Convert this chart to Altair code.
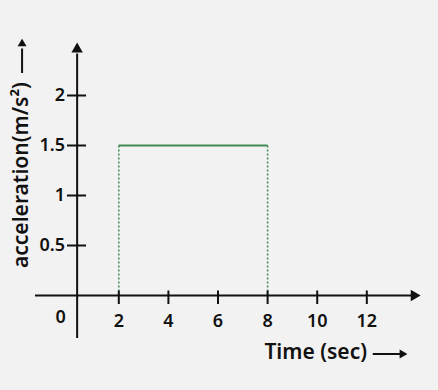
import altair as alt
import pandas as pd

# ---- data ----
x_ticks = [2, 4, 6, 8, 10, 12]
y_ticks = [0.5, 1, 1.5, 2]
y_tick_labels = ["0.5", "1", "1.5", "2"]
accel_start = 2
accel_end = 8
accel_value = 1.5

# ---- layout in data units ----
X_DOM = [-2.79, 14.87]
Y_DOM = [-0.945, 2.955]
YAXIS_X = 0.32
FONT = "Noto Sans"
GREEN = "#3d8b4f"
INK = "#111111"

xs = alt.Scale(domain=X_DOM, nice=False, zero=False)
ys = alt.Scale(domain=Y_DOM, nice=False, zero=False)
X = lambda f: alt.X(f, type="quantitative", scale=xs, axis=None)
Y = lambda f: alt.Y(f, type="quantitative", scale=ys, axis=None)

# axis lines
axes_df = pd.DataFrame([
    {"x": -1.38, "x2": 13.9, "y": 0.0, "y2": 0.0},
    {"x": YAXIS_X, "x2": YAXIS_X, "y": -0.425, "y2": 2.42},
])
axes = alt.Chart(axes_df).mark_rule(color=INK, strokeWidth=2).encode(
    x=X("x"), x2="x2", y=Y("y"), y2="y2")

arrow_df = pd.DataFrame([
    {"x": 13.97, "y": 0.0, "shape": "triangle-right"},
    {"x": YAXIS_X, "y": 2.48, "shape": "triangle-up"},
])
heads = alt.Chart(arrow_df).mark_point(filled=True, color=INK, size=130, opacity=1).encode(
    x=X("x"), y=Y("y"), shape=alt.Shape("shape:N", scale=None))

# y ticks
ytick_df = pd.DataFrame({"y": y_ticks, "label": y_tick_labels,
                         "x": [-0.09] * 4, "x2": [0.68] * 4, "lx": [-0.17] * 4})
yt = alt.Chart(ytick_df).mark_rule(color=INK, strokeWidth=2).encode(
    x=X("x"), x2="x2", y=Y("y"))
ytl = alt.Chart(ytick_df).mark_text(align="right", baseline="middle", font=FONT,
                                   fontSize=18, fontWeight=600, color=INK).encode(
    x=X("lx"), y=Y("y"), text="label:N")

# x ticks
xtick_df = pd.DataFrame({"x": x_ticks, "label": [str(v) for v in x_ticks],
                         "y": [0.05] * 6, "y2": [-0.085] * 6, "ly": [-0.265] * 6})
xt = alt.Chart(xtick_df).mark_rule(color=INK, strokeWidth=2).encode(
    x=X("x"), y=Y("y"), y2="y2")
xtl = alt.Chart(xtick_df).mark_text(align="center", baseline="middle", font=FONT,
                                   fontSize=18, fontWeight=600, color=INK).encode(
    x=X("x"), y=Y("ly"), text="label:N")
zero = alt.Chart(pd.DataFrame({"x": [-0.34], "y": [-0.22], "t": ["0"]})).mark_text(
    align="center", baseline="middle", font=FONT, fontSize=18, fontWeight=600, color=INK
).encode(x=X("x"), y=Y("y"), text="t:N")

# acceleration
acc_df = pd.DataFrame({"x": [accel_start], "x2": [accel_end], "y": [accel_value]})
acc = alt.Chart(acc_df).mark_rule(color=GREEN, strokeWidth=2).encode(
    x=X("x"), x2="x2", y=Y("y"))
drop_df = pd.DataFrame({"x": [accel_start, accel_end], "y": [accel_value] * 2, "y2": [0, 0]})
drops = alt.Chart(drop_df).mark_rule(color=GREEN, strokeWidth=1.5, strokeDash=[2, 2]).encode(
    x=X("x"), y=Y("y"), y2="y2")

# titles
xtitle = alt.Chart(pd.DataFrame({"x": [7.87], "y": [-0.575], "t": ["Time (sec)"]})).mark_text(
    align="left", baseline="middle", font=FONT, fontSize=21, fontWeight=600, color=INK
).encode(x=X("x"), y=Y("y"), text="t:N")
xarrow = alt.Chart(pd.DataFrame({"x": [12.24], "x2": [13.4], "y": [-0.585]})).mark_rule(
    color=INK, strokeWidth=2).encode(x=X("x"), x2="x2", y=Y("y"))
xarrowhead = alt.Chart(pd.DataFrame({"x": [13.48], "y": [-0.585]})).mark_point(
    shape="triangle-right", filled=True, color=INK, size=80, opacity=1).encode(x=X("x"), y=Y("y"))

ytitle = alt.Chart(pd.DataFrame({"x": [-1.9], "y": [0.275], "t": ["acceleration(m/s²)"]})).mark_text(
    align="left", baseline="middle", angle=270, font=FONT, fontSize=21, fontWeight=600, color=INK
).encode(x=X("x"), y=Y("y"), text="t:N")
yarrow = alt.Chart(pd.DataFrame({"x": [-1.9], "y": [2.225], "y2": [2.47]})).mark_rule(
    color=INK, strokeWidth=2).encode(x=X("x"), y=Y("y"), y2="y2")
yarrowhead = alt.Chart(pd.DataFrame({"x": [-1.9], "y": [2.53]})).mark_point(
    shape="triangle-up", filled=True, color=INK, size=80, opacity=1).encode(x=X("x"), y=Y("y"))

chart = alt.layer(
    drops, acc, axes, heads, yt, ytl, xt, xtl, zero,
    xtitle, xarrow, xarrowhead, ytitle, yarrow, yarrowhead
).properties(
    width=438, height=390, background="#f2f2f2", padding=0,
    autosize=alt.AutoSizeParams(type="none")
).configure_view(stroke=None)

chart.save("out.html", embed_options={"renderer": "svg", "actions": False})
